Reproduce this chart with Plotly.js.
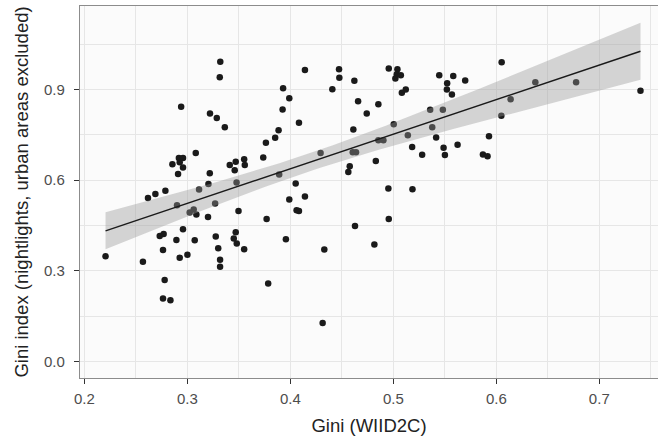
<!DOCTYPE html>
<html><head><meta charset="utf-8">
<script src="https://cdn.plot.ly/plotly-3.0.1.min.js"></script>
<style>html,body{margin:0;padding:0;background:#fff}#chart{width:658px;height:441px}</style>
</head><body><div id="chart"></div>
<script>
const giniWIID = [0.332,0.3315,0.294,0.322,0.3286,0.3364,0.393,0.399,0.3925,0.3886,0.3853,0.3763,0.3737,0.3082,0.2918,0.2958,0.2926,0.2958,0.291,0.2855,0.3218,0.3205,0.3114,0.3412,0.347,0.346,0.3552,0.3558,0.3478,0.3892,0.2787,0.269,0.2618,0.399,0.4142,0.4084,0.4052,0.4142,0.4294,0.4473,0.4476,0.4408,0.4622,0.4658,0.4742,0.4855,0.4612,0.4606,0.4638,0.4855,0.4904,0.5004,0.4956,0.504,0.5034,0.5073,0.502,0.5121,0.5083,0.483,0.4577,0.4563,0.5141,0.5183,0.528,0.5358,0.5481,0.5378,0.5416,0.5446,0.5582,0.5698,0.5523,0.552,0.5569,0.5488,0.5501,0.5624,0.4952,0.5186,0.6052,0.6379,0.6775,0.740,0.6139,0.6049,0.5929,0.587,0.5915,0.2206,0.2569,0.290,0.3023,0.3062,0.3088,0.327,0.3201,0.3497,0.377,0.3957,0.2732,0.277,0.2958,0.2894,0.3072,0.2764,0.2926,0.3001,0.3276,0.330,0.3318,0.3318,0.347,0.3451,0.348,0.3552,0.278,0.2764,0.2836,0.3785,0.4061,0.4084,0.433,0.4314,0.4628,0.4816,0.4956];
const giniNight = [0.992,0.941,0.843,0.821,0.806,0.775,0.904,0.871,0.834,0.765,0.740,0.724,0.675,0.690,0.673,0.673,0.659,0.642,0.620,0.653,0.623,0.587,0.569,0.650,0.661,0.633,0.669,0.650,0.592,0.619,0.565,0.554,0.541,0.536,0.965,0.790,0.589,0.546,0.690,0.967,0.939,0.901,0.929,0.861,0.821,0.851,0.768,0.692,0.692,0.732,0.732,0.785,0.970,0.967,0.951,0.947,0.937,0.900,0.889,0.663,0.646,0.627,0.749,0.710,0.684,0.833,0.833,0.775,0.741,0.947,0.945,0.930,0.921,0.900,0.884,0.707,0.683,0.717,0.572,0.570,0.990,0.924,0.924,0.896,0.868,0.813,0.745,0.685,0.679,0.348,0.330,0.517,0.493,0.503,0.486,0.523,0.478,0.498,0.471,0.404,0.415,0.422,0.437,0.402,0.401,0.369,0.343,0.353,0.413,0.374,0.336,0.313,0.427,0.407,0.390,0.371,0.269,0.208,0.202,0.258,0.500,0.498,0.370,0.127,0.448,0.387,0.471];
const xTicks = [0.2,0.3,0.4,0.5,0.6,0.7];
const yTicks = [0.0,0.3,0.6,0.9];

// linear fit with 95% confidence band, computed from the data
const n = giniWIID.length;
const mx = giniWIID.reduce((a,b)=>a+b,0)/n, my = giniNight.reduce((a,b)=>a+b,0)/n;
let sxx=0, sxy=0;
for(let i=0;i<n;i++){sxx+=(giniWIID[i]-mx)**2; sxy+=(giniWIID[i]-mx)*(giniNight[i]-my);}
const b1 = sxy/sxx, b0 = my-b1*mx;
let sse=0; for(let i=0;i<n;i++){sse+=(giniNight[i]-b0-b1*giniWIID[i])**2;}
const s = Math.sqrt(sse/(n-2)), tq = 1.979;
const xmin = Math.min(...giniWIID), xmax = Math.max(...giniWIID);
const fx=[], fy=[], lo=[], hi=[];
for(let k=0;k<=80;k++){const x=xmin+(xmax-xmin)*k/80; const y=b0+b1*x; const se=s*Math.sqrt(1/n+(x-mx)**2/sxx); fx.push(x); fy.push(y); lo.push(y-tq*se); hi.push(y+tq*se);}

const traces = [
 {x:giniWIID, y:giniNight, type:'scatter', mode:'markers', marker:{color:'#1a1a1a', size:6.5}, hoverinfo:'x+y'},
 {x:fx.concat(fx.slice().reverse()), y:hi.concat(lo.slice().reverse()), type:'scatter', mode:'lines', fill:'toself', fillcolor:'rgba(153,153,153,0.4)', line:{width:0}, hoverinfo:'skip'},
 {x:fx, y:fy, type:'scatter', mode:'lines', line:{color:'#1a1a1a', width:1.4}}
];
const gridc = '#e6e6e6';
const layout = {
 width:658, height:441, showlegend:false,
 margin:{l:80, r:0, t:6, b:63},
 paper_bgcolor:'#ffffff', plot_bgcolor:'#fbfbfb',
 font:{family:'"Liberation Sans", Arial, sans-serif', color:'#4d4d4d', size:15},
 xaxis:{range:[0.1958,0.757], tickvals:xTicks, ticktext:xTicks.map(v=>v.toFixed(1)),
   showgrid:true, gridcolor:gridc, gridwidth:1, zeroline:false,
   minor:{dtick:0.05, tick0:0.05, showgrid:true, gridcolor:gridc, gridwidth:1, ticks:''},
   showline:true, linecolor:'#8c8c8c', linewidth:1.2, mirror:true,
   ticks:'outside', ticklen:5, tickcolor:'#333', ticklabelstandoff:2, tickfont:{size:15, color:'#4d4d4d'},
   title:{text:'Gini (WIID2C)', font:{size:18.5, color:'#222'}, standoff:12}},
 yaxis:{range:[-0.0553,1.1767], tickvals:yTicks, ticktext:yTicks.map(v=>v.toFixed(1)),
   showgrid:true, gridcolor:gridc, gridwidth:1, zeroline:false,
   minor:{dtick:0.15, tick0:0.15, showgrid:true, gridcolor:gridc, gridwidth:1, ticks:''},
   showline:true, linecolor:'#8c8c8c', linewidth:1.2,
   ticks:'outside', ticklen:5, tickcolor:'#333', ticklabelstandoff:6, tickfont:{size:15, color:'#4d4d4d'},
   title:{text:'Gini index (nightlights, urban areas excluded)', font:{size:18.5, color:'#222'}, standoff:10}}
};
Plotly.newPlot('chart', traces, layout, {displayModeBar:false, staticPlot:true});
</script></body></html>
